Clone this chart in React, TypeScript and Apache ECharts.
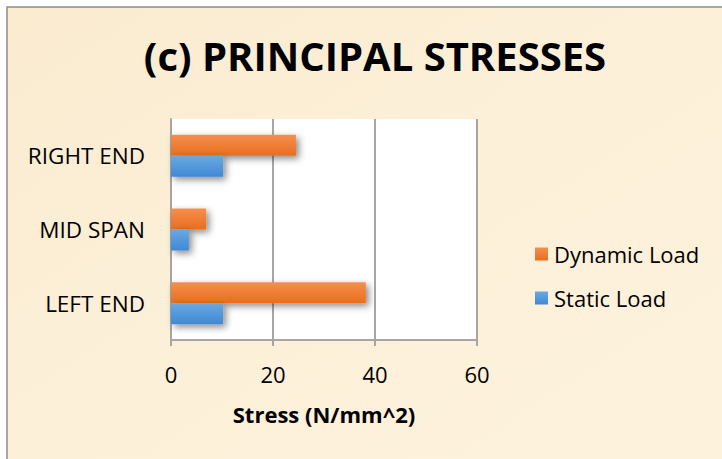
import React, { useEffect, useRef } from "react";
import * as echarts from "echarts";

const categories = ["LEFT END", "MID SPAN", "RIGHT END"];
const staticLoad = [10.2, 3.5, 10.2];
const dynamicLoad = [38.2, 6.9, 24.5];
const xTicks = [0, 20, 40, 60];
const seriesNames = ["Dynamic Load", "Static Load"];

const FONT = "'Open Sans', 'Noto Sans', sans-serif";

export default function App() {
  const ref = useRef<HTMLDivElement>(null);
  useEffect(() => {
    if (!ref.current) return;
    const chart = echarts.init(ref.current, undefined, { renderer: "svg" });
    const shadow = {
      shadowColor: "rgba(0,0,0,0.45)",
      shadowBlur: 7,
      shadowOffsetX: 3,
      shadowOffsetY: 3,
    };
    chart.setOption({
      animation: false,
      backgroundColor: "#ffffff",
      graphic: [
        {
          type: "rect",
          z: -10,
          silent: true,
          shape: { x: 7, y: 7, width: 722, height: 459 },
          style: {
            fill: new echarts.graphic.LinearGradient(0, 0, 1, 1, [
              { offset: 0, color: "#fbecd0" },
              { offset: 0.5, color: "#fcf0d9" },
              { offset: 1, color: "#fdf2dc" },
            ]),
            stroke: "#8c8c8c",
            lineWidth: 1.5,
          },
        },
      ],
      title: {
        text: "(c) PRINCIPAL STRESSES",
        left: 370,
        top: 30,
        textAlign: "center",
        textStyle: { fontFamily: FONT, fontWeight: "bold", fontSize: 40, color: "#000" },
      },
      legend: {
        orient: "vertical",
        left: 530,
        top: 238,
        icon: "rect",
        itemWidth: 13,
        itemHeight: 13,
        itemGap: 22,
        data: seriesNames,
        textStyle: { fontFamily: FONT, fontSize: 22, color: "#000", padding: [0, 0, 0, 1] },
      },
      grid: { left: 171, right: 245, top: 119, bottom: 119, backgroundColor: "#ffffff", show: true, borderWidth: 0 },
      xAxis: {
        type: "value",
        min: 0,
        max: 60,
        interval: 20,
        name: "Stress (N/mm^2)",
        nameLocation: "middle",
        nameGap: 63,
        nameTextStyle: { fontFamily: FONT, fontWeight: "bold", fontSize: 22, color: "#000" },
        axisLine: { show: true, lineStyle: { color: "#a6a6a6", width: 2 } },
        axisTick: { show: true, length: 6, lineStyle: { color: "#a6a6a6", width: 2 } },
        axisLabel: {
          fontFamily: FONT,
          fontSize: 22,
          color: "#000",
          margin: 23,
          customValues: xTicks,
        },
        splitLine: { show: true, lineStyle: { color: "#a6a6a6", width: 2 } },
      },
      yAxis: {
        type: "category",
        data: categories,
        axisLine: { show: true, lineStyle: { color: "#a6a6a6", width: 2 } },
        axisTick: { show: false },
        axisLabel: { fontFamily: FONT, fontSize: 22.5, color: "#000", margin: 26 },
      },
      series: [
        {
          name: "Dynamic Load",
          type: "bar",
          data: dynamicLoad,
          barWidth: 21,
          barGap: "0%",
          barCategoryGap: "41%",
          itemStyle: {
            color: new echarts.graphic.LinearGradient(0, 0, 0, 1, [
              { offset: 0, color: "#f48f50" },
              { offset: 1, color: "#e96e1c" },
            ]),
            ...shadow,
          },
        },
        {
          name: "Static Load",
          type: "bar",
          data: staticLoad,
          barWidth: 21,
          barGap: "0%",
          itemStyle: {
            color: new echarts.graphic.LinearGradient(0, 0, 0, 1, [
              { offset: 0, color: "#6aa8e2" },
              { offset: 1, color: "#3f89d4" },
            ]),
            ...shadow,
          },
        },
      ],
    });
    return () => chart.dispose();
  }, []);
  return (
    <div
      ref={ref}
      style={{ position: "fixed", left: 0, top: 0, width: 722, height: 459 }}
    />
  );
}
